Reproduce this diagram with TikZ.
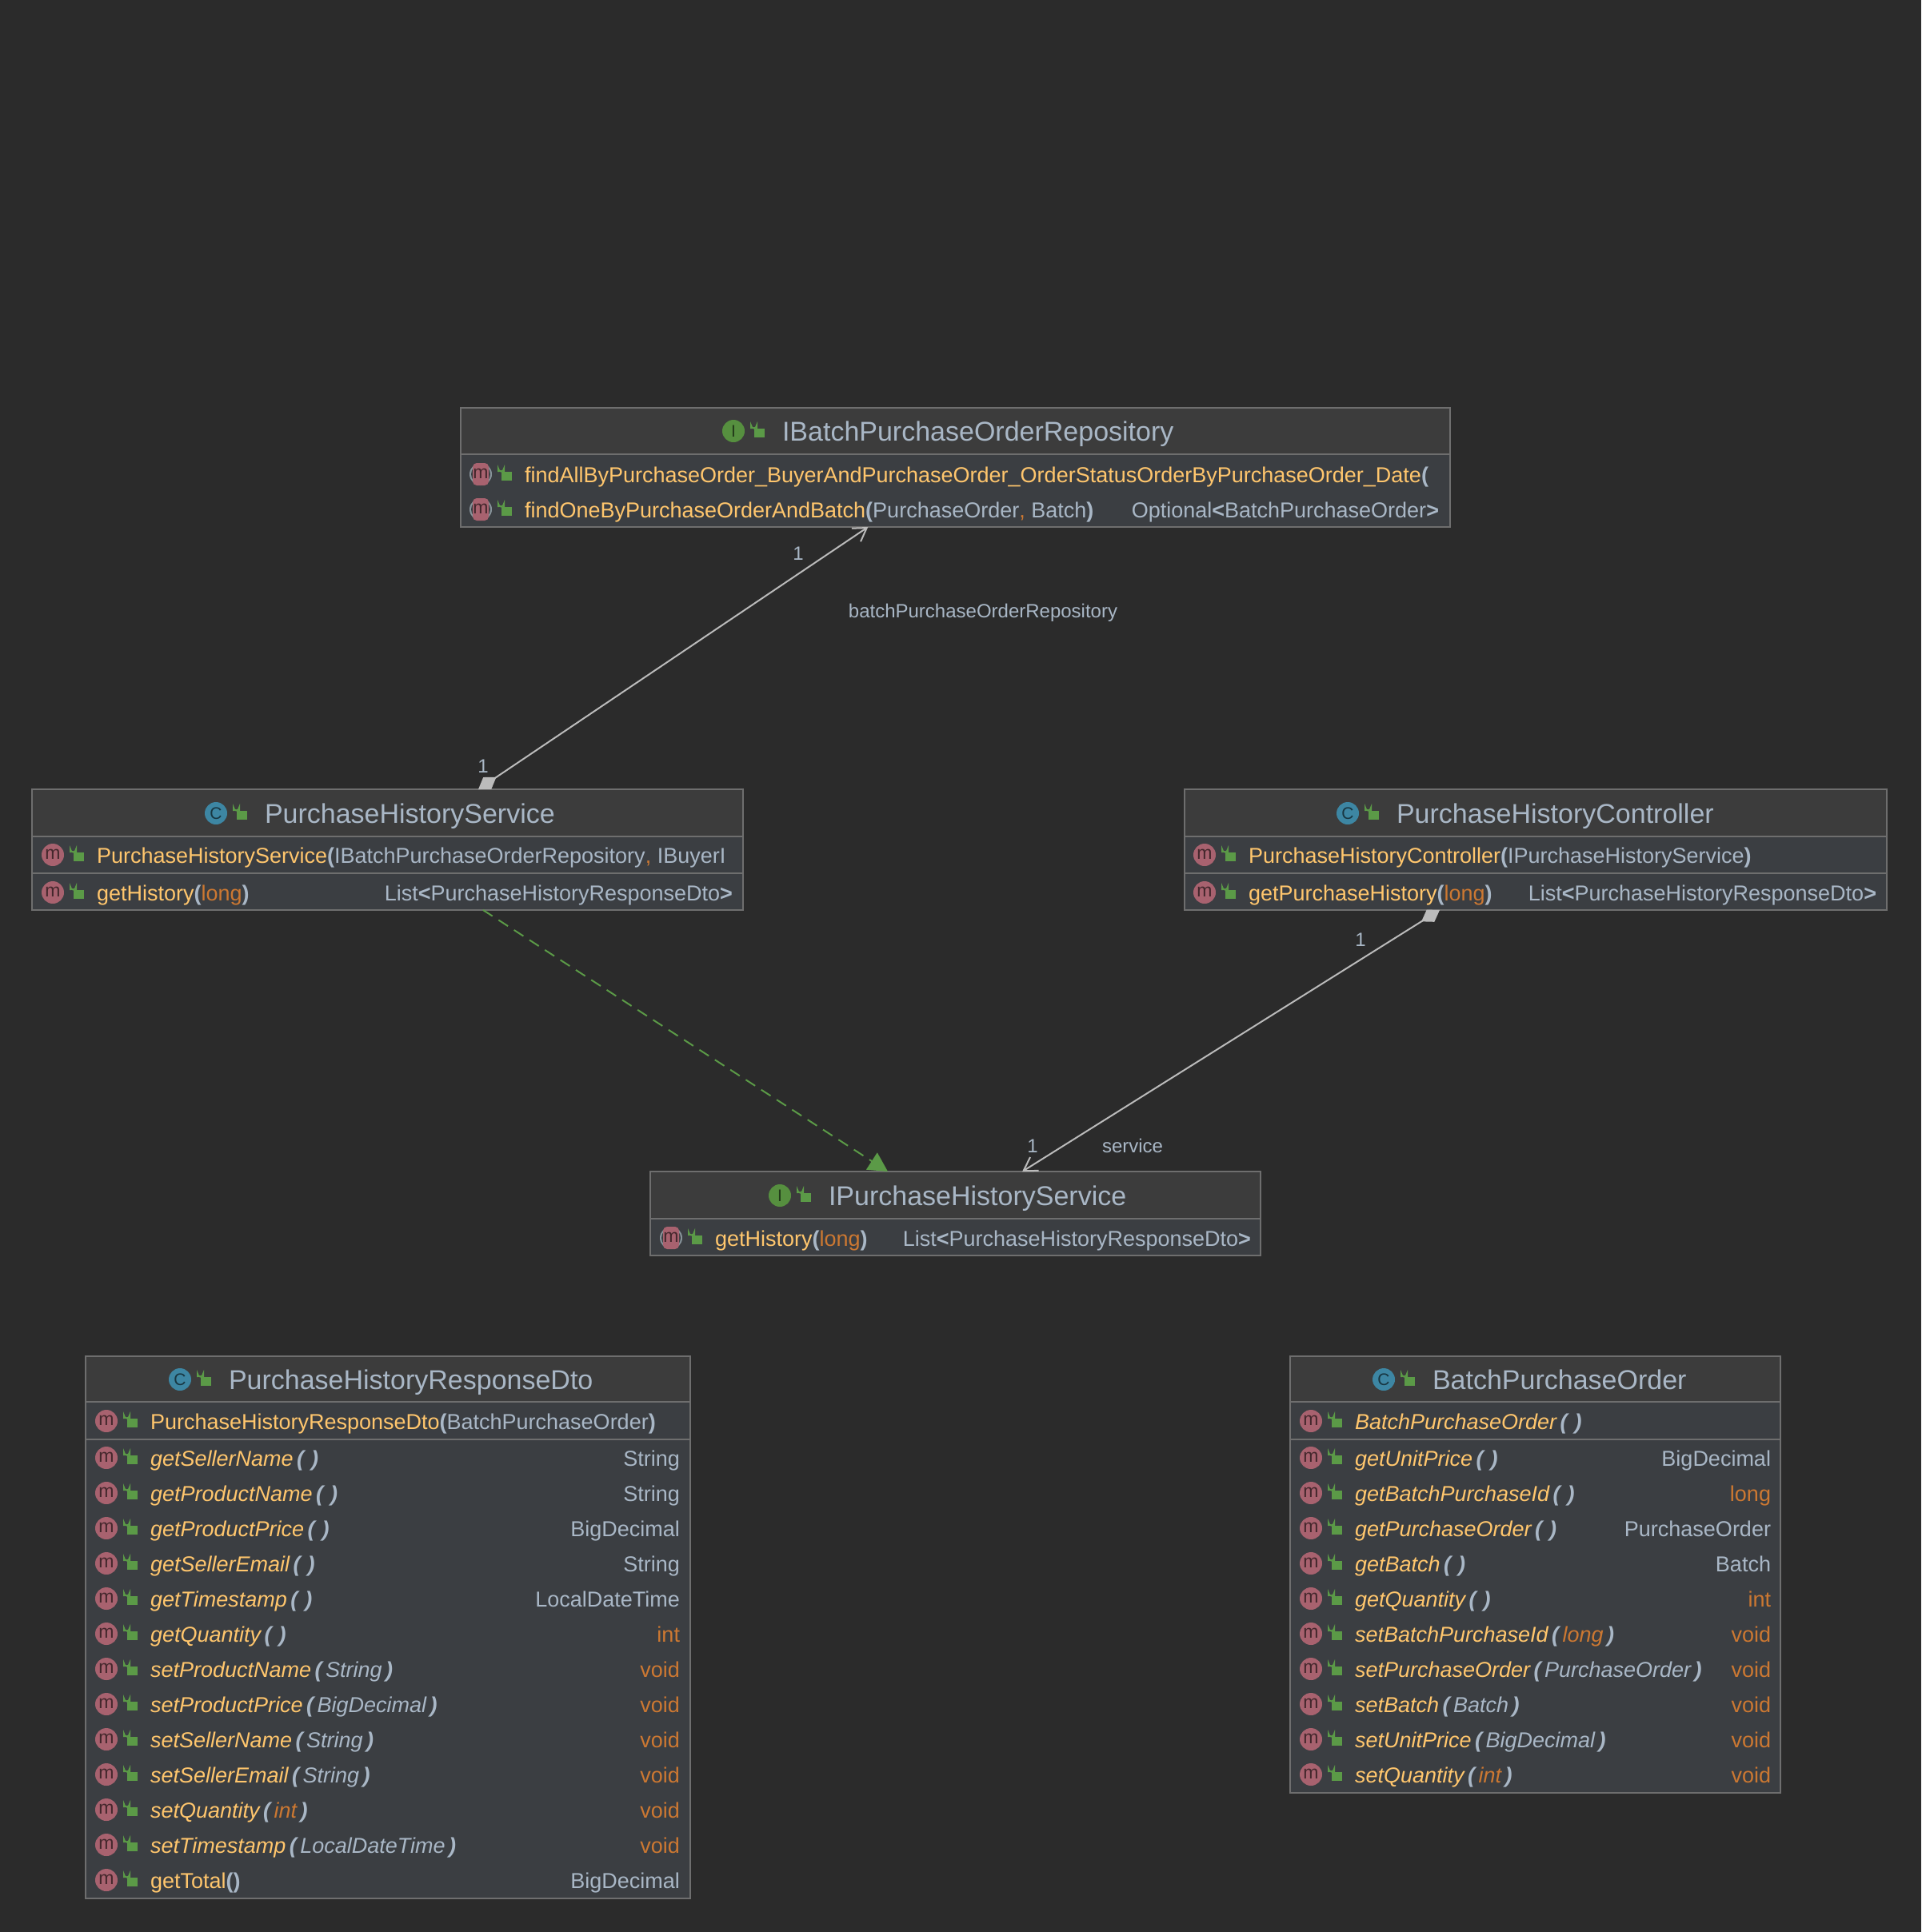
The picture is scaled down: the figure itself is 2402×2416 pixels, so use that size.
\documentclass[tikz,border=0pt]{standalone}
\usepackage{fontspec}
\setmainfont{Liberation Sans}
\usetikzlibrary{arrows.meta,calc}
\definecolor{bgc}{HTML}{2B2B2B}
\definecolor{hdrc}{HTML}{3C3C3C}
\definecolor{rowc}{HTML}{3B3E42}
\definecolor{edgec}{HTML}{6E6E6E}
\definecolor{namec}{HTML}{FFC66D}
\definecolor{textc}{HTML}{A9B7C6}
\definecolor{kwc}{HTML}{CC7832}
\definecolor{lockc}{HTML}{5B9A47}
\definecolor{pinkc}{HTML}{A8626F}
\definecolor{tealc}{HTML}{3D86A3}
\definecolor{igreen}{HTML}{568F3F}
\definecolor{absc}{HTML}{87939A}
\definecolor{linec}{HTML}{BBBBBB}
\newcommand\mfont{\fontsize{27}{32}\selectfont}
\newcommand\tfont{\fontsize{34}{40}\selectfont}
\newcommand\lfont{\fontsize{24}{28}\selectfont}
\newcommand\nm[1]{\textcolor{namec}{#1}}
\newcommand\inm[1]{\textcolor{namec}{\itshape #1}}
\newcommand\ty[1]{\textcolor{textc}{#1}}
\newcommand\ity[1]{\textcolor{textc}{\itshape #1}}
\newcommand\kw[1]{\textcolor{kwc}{#1}}
\newcommand\ikw[1]{\textcolor{kwc}{\itshape #1}}
\newcommand\bop{\textcolor{textc}{\bfseries(}}
\newcommand\bcl{\textcolor{textc}{\bfseries)}}
\newcommand\iop{\textcolor{textc}{\bfseries\itshape\,(\,}}
\newcommand\icl{\textcolor{textc}{\bfseries\itshape\,)}}
\newcommand\ilt{\textcolor{textc}{\bfseries<}}
\newcommand\igt{\textcolor{textc}{\bfseries>}}
\newcommand\emp{\textcolor{textc}{\bfseries\itshape\,(\,\,)}}
\tikzset{
  boxbody/.style={rectangle,draw=edgec,line width=2pt,fill=rowc,inner sep=0pt,outer sep=0pt},
  boxhead/.style={rectangle,fill=hdrc,inner sep=0pt,outer sep=0pt},
  rowsep/.style={draw=edgec,line width=2pt},
  mname/.style={anchor=base west,inner sep=0pt,outer sep=0pt,font=\mfont},
  mtype/.style={anchor=base east,inner sep=0pt,outer sep=0pt,font=\mfont},
  ttext/.style={anchor=base west,inner sep=0pt,outer sep=0pt,font=\tfont,text=textc},
  lab/.style={inner sep=0pt,outer sep=0pt,font=\lfont,text=textc},
  roundicon/.style={circle,inner sep=0pt,outer sep=0pt,minimum size=28pt},
  assoc/.style={draw=linec,line width=2pt,{Diamond[length=27pt,width=18pt,fill=linec]}-{Straight Barb[length=16pt,width=20pt]}},
  impl/.style={draw=lockc,line width=2pt,dash pattern=on 14pt off 9pt,-{Triangle[length=24pt,width=25pt,fill=lockc]}},
}
\newcommand\lockat[2]{%
  \fill[lockc] ({#1-6.5},{#2-3}) rectangle ({#1+6.5},{#2+8});
  \draw[lockc,line width=2pt] ({#1-10},{#2-3}) -- ({#1-10},{#2-7}) arc[start angle=180,end angle=0,radius=3.5pt,y radius=-3.5pt] -- ({#1-3},{#2-3});}
\newcommand\umlbox[6]{%
  \node[boxbody,minimum width={#4-#2},minimum height={#5-#3}] (#1) at ({(#2+#4)/2},{(#3+#5)/2}) {};
  \node[boxhead,minimum width={#4-#2-2},minimum height={#6-#3-1}] (#1-head) at ({(#2+#4)/2},{(#3+#6)/2}) {};
  \draw[rowsep] (#2,#6) -- (#4,#6);}
\newcommand\titlerow[6]{% id, kind letter, colour, icon x, y, text
  \node[roundicon,fill=#3,text=black!60!#3,font=\fontsize{21}{21}\selectfont] (#1-icon) at (#4,#5) {#2};
  \lockat{#4+32}{#5}
  \node[ttext] (#1-title) at ({#4+61},{#5+12}) {#6};}
\newcommand\mrow[4]{% id, y, left, right
  \node[roundicon,fill=pinkc,text=black!60!pinkc,font=\fontsize{23}{23}\selectfont] (#1-icon) at (\curix,#2) {\raisebox{1pt}{m}};
  \lockat{\curix+32}{#2}
  \node[mname] (#1-name) at ({\curix+55},{#2+10}) {#3};
  \node[mtype] (#1-type) at (\curxr,{#2+10}) {#4};}
\newcommand\arow[4]{% abstract method row
  \node[roundicon,fill=absc] (#1-ring) at (\curix,#2) {};
  \node[circle,inner sep=0pt,outer sep=0pt,minimum size=24pt,fill=rowc] (#1-hole) at (\curix,#2) {};
  \node[rectangle,rounded corners=5pt,fill=pinkc,text=black!60!pinkc,inner sep=0pt,outer sep=0pt,minimum width=20pt,minimum height=28pt,font=\fontsize{23}{23}\selectfont] (#1-icon) at (\curix,#2) {\raisebox{1pt}{m}};
  \lockat{\curix+32}{#2}
  \node[mname] (#1-name) at ({\curix+55},{#2+10}) {#3};
  \node[mtype] (#1-type) at (\curxr,{#2+10}) {#4};}
\begin{document}
\begin{tikzpicture}[x=1pt,y=-1pt]
\useasboundingbox (0,0) rectangle (2402,2416);
\fill[bgc] (0,0) rectangle (2402,2416);

% IBatchPurchaseOrderRepository
\umlbox{ib}{576}{510}{1813}{659}{568}
\titlerow{ib}{I}{igreen}{917}{539}{IBatchPurchaseOrderRepository}
\def\curix{601}\def\curxr{1799}
\begin{scope}
\clip (ib.north west) rectangle (ib.south east);
\arow{ib1}{593}{\nm{findAllByPurchaseOrder\_BuyerAndPurchaseOrder\_OrderStatusOrderByPurchaseOrder\_Date}\bop}{}
\arow{ib2}{637}{\nm{findOneByPurchaseOrderAndBatch}\bop\ty{PurchaseOrder}\kw{,} \ty{Batch}\bcl}{\ty{Optional}\ilt\ty{BatchPurchaseOrder}\igt}
\end{scope}

% PurchaseHistoryService
\umlbox{ps}{40}{987}{929}{1138}{1046}
\draw[rowsep] (40,1092) -- (929,1092);
\titlerow{ps}{C}{tealc}{270}{1017}{PurchaseHistoryService}
\def\curix{66}\def\curxr{916}
\begin{scope}
\clip (ps.north west) rectangle (ps.south east);
\mrow{ps1}{1069}{\nm{PurchaseHistoryService}\bop\ty{IBatchPurchaseOrderRepository}\kw{,} \ty{IBuyerI}}{}
\mrow{ps2}{1116}{\nm{getHistory}\bop\kw{long}\bcl}{\ty{List}\ilt\ty{PurchaseHistoryResponseDto}\igt}
\end{scope}

% PurchaseHistoryController
\umlbox{pc}{1481}{987}{2359}{1138}{1046}
\draw[rowsep] (1481,1092) -- (2359,1092);
\titlerow{pc}{C}{tealc}{1685}{1017}{PurchaseHistoryController}
\def\curix{1506}\def\curxr{2346}
\mrow{pc1}{1069}{\nm{PurchaseHistoryController}\bop\ty{IPurchaseHistoryService}\bcl}{}
\mrow{pc2}{1116}{\nm{getPurchaseHistory}\bop\kw{long}\bcl}{\ty{List}\ilt\ty{PurchaseHistoryResponseDto}\igt}

% IPurchaseHistoryService
\umlbox{is}{813}{1465}{1576}{1570}{1524}
\titlerow{is}{I}{igreen}{975}{1495}{IPurchaseHistoryService}
\def\curix{839}\def\curxr{1564}
\arow{is1}{1548}{\nm{getHistory}\bop\kw{long}\bcl}{\ty{List}\ilt\ty{PurchaseHistoryResponseDto}\igt}

% PurchaseHistoryResponseDto
\umlbox{dto}{107}{1696}{863}{2374}{1753}
\draw[rowsep] (107,1800) -- (863,1800);
\titlerow{dto}{C}{tealc}{225}{1725}{PurchaseHistoryResponseDto}
\def\curix{133}\def\curxr{850}
\mrow{d0}{1777}{\nm{PurchaseHistoryResponseDto}\bop\ty{BatchPurchaseOrder}\bcl}{}
\mrow{d1}{1823}{\inm{getSellerName}\emp}{\ty{String}}
\mrow{d2}{1867}{\inm{getProductName}\emp}{\ty{String}}
\mrow{d3}{1911}{\inm{getProductPrice}\emp}{\ty{BigDecimal}}
\mrow{d4}{1955}{\inm{getSellerEmail}\emp}{\ty{String}}
\mrow{d5}{1999}{\inm{getTimestamp}\emp}{\ty{LocalDateTime}}
\mrow{d6}{2043}{\inm{getQuantity}\emp}{\kw{int}}
\mrow{d7}{2087}{\inm{setProductName}\iop\ity{String}\icl}{\kw{void}}
\mrow{d8}{2131}{\inm{setProductPrice}\iop\ity{BigDecimal}\icl}{\kw{void}}
\mrow{d9}{2175}{\inm{setSellerName}\iop\ity{String}\icl}{\kw{void}}
\mrow{d10}{2219}{\inm{setSellerEmail}\iop\ity{String}\icl}{\kw{void}}
\mrow{d11}{2263}{\inm{setQuantity}\iop\ikw{int}\icl}{\kw{void}}
\mrow{d12}{2307}{\inm{setTimestamp}\iop\ity{LocalDateTime}\icl}{\kw{void}}
\mrow{d13}{2351}{\nm{getTotal}\bop\bcl}{\ty{BigDecimal}}

% BatchPurchaseOrder
\umlbox{bp}{1613}{1696}{2226}{2242}{1753}
\draw[rowsep] (1613,1800) -- (2226,1800);
\titlerow{bp}{C}{tealc}{1730}{1725}{BatchPurchaseOrder}
\def\curix{1639}\def\curxr{2214}
\mrow{b0}{1777}{\inm{BatchPurchaseOrder}\emp}{}
\mrow{b1}{1823}{\inm{getUnitPrice}\emp}{\ty{BigDecimal}}
\mrow{b2}{1867}{\inm{getBatchPurchaseId}\emp}{\kw{long}}
\mrow{b3}{1911}{\inm{getPurchaseOrder}\emp}{\ty{PurchaseOrder}}
\mrow{b4}{1955}{\inm{getBatch}\emp}{\ty{Batch}}
\mrow{b5}{1999}{\inm{getQuantity}\emp}{\kw{int}}
\mrow{b6}{2043}{\inm{setBatchPurchaseId}\iop\ikw{long}\icl}{\kw{void}}
\mrow{b7}{2087}{\inm{setPurchaseOrder}\iop\ity{PurchaseOrder}\icl}{\kw{void}}
\mrow{b8}{2131}{\inm{setBatch}\iop\ity{Batch}\icl}{\kw{void}}
\mrow{b9}{2175}{\inm{setUnitPrice}\iop\ity{BigDecimal}\icl}{\kw{void}}
\mrow{b10}{2219}{\inm{setQuantity}\iop\ikw{int}\icl}{\kw{void}}

% connectors
\draw[assoc] ($(ps.north west)!0.6277!(ps.north east)$) -- ($(ib.south west)!0.4117!(ib.south east)$);
\draw[assoc] ($(pc.south west)!0.3633!(pc.south east)$) -- ($(is.north west)!0.6096!(is.north east)$);
\draw[impl] ($(ps.south west)!0.6344!(ps.south east)$) -- ($(is.north west)!0.3893!(is.north east)$);

% connector labels
\node[lab] (l1) at (998,692) {1};
\node[lab] (l2) at (1229,766) {batchPurchaseOrderRepository};
\node[lab] (l3) at (604,958) {1};
\node[lab] (l4) at (1701,1175) {1};
\node[lab] (l5) at (1291,1433) {1};
\node[lab] (l6) at (1416,1433) {service};
\end{tikzpicture}
\end{document}
